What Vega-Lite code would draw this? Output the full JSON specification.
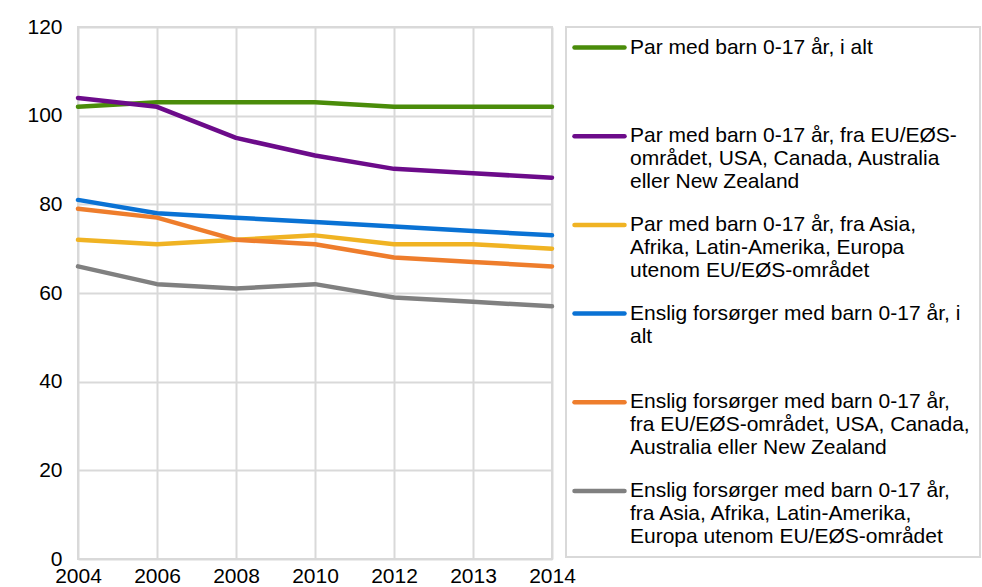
{
  "$schema": "https://vega.github.io/schema/vega-lite/v6.json",
  "width": 474,
  "height": 532,
  "autosize": {"type": "none"},
  "padding": {"left": 78, "top": 27, "right": 430, "bottom": 28},
  "background": "white",
  "data": {
    "values": [
      {"år": "2004", "serie": "Par med barn 0-17 år, i alt", "verdi": 102},
      {"år": "2006", "serie": "Par med barn 0-17 år, i alt", "verdi": 103},
      {"år": "2008", "serie": "Par med barn 0-17 år, i alt", "verdi": 103},
      {"år": "2010", "serie": "Par med barn 0-17 år, i alt", "verdi": 103},
      {"år": "2012", "serie": "Par med barn 0-17 år, i alt", "verdi": 102},
      {"år": "2013", "serie": "Par med barn 0-17 år, i alt", "verdi": 102},
      {"år": "2014", "serie": "Par med barn 0-17 år, i alt", "verdi": 102},
      {"år": "2004", "serie": "Par med barn 0-17 år, fra EU/EØS-området, USA, Canada, Australia eller New Zealand", "verdi": 104},
      {"år": "2006", "serie": "Par med barn 0-17 år, fra EU/EØS-området, USA, Canada, Australia eller New Zealand", "verdi": 102},
      {"år": "2008", "serie": "Par med barn 0-17 år, fra EU/EØS-området, USA, Canada, Australia eller New Zealand", "verdi": 95},
      {"år": "2010", "serie": "Par med barn 0-17 år, fra EU/EØS-området, USA, Canada, Australia eller New Zealand", "verdi": 91},
      {"år": "2012", "serie": "Par med barn 0-17 år, fra EU/EØS-området, USA, Canada, Australia eller New Zealand", "verdi": 88},
      {"år": "2013", "serie": "Par med barn 0-17 år, fra EU/EØS-området, USA, Canada, Australia eller New Zealand", "verdi": 87},
      {"år": "2014", "serie": "Par med barn 0-17 år, fra EU/EØS-området, USA, Canada, Australia eller New Zealand", "verdi": 86},
      {"år": "2004", "serie": "Par med barn 0-17 år, fra Asia, Afrika, Latin-Amerika, Europa utenom EU/EØS-området", "verdi": 72},
      {"år": "2006", "serie": "Par med barn 0-17 år, fra Asia, Afrika, Latin-Amerika, Europa utenom EU/EØS-området", "verdi": 71},
      {"år": "2008", "serie": "Par med barn 0-17 år, fra Asia, Afrika, Latin-Amerika, Europa utenom EU/EØS-området", "verdi": 72},
      {"år": "2010", "serie": "Par med barn 0-17 år, fra Asia, Afrika, Latin-Amerika, Europa utenom EU/EØS-området", "verdi": 73},
      {"år": "2012", "serie": "Par med barn 0-17 år, fra Asia, Afrika, Latin-Amerika, Europa utenom EU/EØS-området", "verdi": 71},
      {"år": "2013", "serie": "Par med barn 0-17 år, fra Asia, Afrika, Latin-Amerika, Europa utenom EU/EØS-området", "verdi": 71},
      {"år": "2014", "serie": "Par med barn 0-17 år, fra Asia, Afrika, Latin-Amerika, Europa utenom EU/EØS-området", "verdi": 70},
      {"år": "2004", "serie": "Enslig forsørger med barn 0-17 år, i alt", "verdi": 81},
      {"år": "2006", "serie": "Enslig forsørger med barn 0-17 år, i alt", "verdi": 78},
      {"år": "2008", "serie": "Enslig forsørger med barn 0-17 år, i alt", "verdi": 77},
      {"år": "2010", "serie": "Enslig forsørger med barn 0-17 år, i alt", "verdi": 76},
      {"år": "2012", "serie": "Enslig forsørger med barn 0-17 år, i alt", "verdi": 75},
      {"år": "2013", "serie": "Enslig forsørger med barn 0-17 år, i alt", "verdi": 74},
      {"år": "2014", "serie": "Enslig forsørger med barn 0-17 år, i alt", "verdi": 73},
      {"år": "2004", "serie": "Enslig forsørger med barn 0-17 år, fra EU/EØS-området, USA, Canada, Australia eller New Zealand", "verdi": 79},
      {"år": "2006", "serie": "Enslig forsørger med barn 0-17 år, fra EU/EØS-området, USA, Canada, Australia eller New Zealand", "verdi": 77},
      {"år": "2008", "serie": "Enslig forsørger med barn 0-17 år, fra EU/EØS-området, USA, Canada, Australia eller New Zealand", "verdi": 72},
      {"år": "2010", "serie": "Enslig forsørger med barn 0-17 år, fra EU/EØS-området, USA, Canada, Australia eller New Zealand", "verdi": 71},
      {"år": "2012", "serie": "Enslig forsørger med barn 0-17 år, fra EU/EØS-området, USA, Canada, Australia eller New Zealand", "verdi": 68},
      {"år": "2013", "serie": "Enslig forsørger med barn 0-17 år, fra EU/EØS-området, USA, Canada, Australia eller New Zealand", "verdi": 67},
      {"år": "2014", "serie": "Enslig forsørger med barn 0-17 år, fra EU/EØS-området, USA, Canada, Australia eller New Zealand", "verdi": 66},
      {"år": "2004", "serie": "Enslig forsørger med barn 0-17 år, fra Asia, Afrika, Latin-Amerika, Europa utenom EU/EØS-området", "verdi": 66},
      {"år": "2006", "serie": "Enslig forsørger med barn 0-17 år, fra Asia, Afrika, Latin-Amerika, Europa utenom EU/EØS-området", "verdi": 62},
      {"år": "2008", "serie": "Enslig forsørger med barn 0-17 år, fra Asia, Afrika, Latin-Amerika, Europa utenom EU/EØS-området", "verdi": 61},
      {"år": "2010", "serie": "Enslig forsørger med barn 0-17 år, fra Asia, Afrika, Latin-Amerika, Europa utenom EU/EØS-området", "verdi": 62},
      {"år": "2012", "serie": "Enslig forsørger med barn 0-17 år, fra Asia, Afrika, Latin-Amerika, Europa utenom EU/EØS-området", "verdi": 59},
      {"år": "2013", "serie": "Enslig forsørger med barn 0-17 år, fra Asia, Afrika, Latin-Amerika, Europa utenom EU/EØS-området", "verdi": 58},
      {"år": "2014", "serie": "Enslig forsørger med barn 0-17 år, fra Asia, Afrika, Latin-Amerika, Europa utenom EU/EØS-området", "verdi": 57}
    ]
  },
  "mark": {"type": "line", "strokeWidth": 4.5, "strokeJoin": "round", "strokeCap": "round"},
  "encoding": {
    "x": {
      "field": "år",
      "type": "ordinal",
      "scale": {"type": "point", "padding": 0},
      "axis": {
        "title": null,
        "labelAngle": 0,
        "grid": true,
        "gridColor": "#d9d9d9",
        "gridWidth": 2,
        "domain": false,
        "ticks": false,
        "tickSize": 0,
        "labelPadding": 6,
        "labelFontSize": 21,
        "labelColor": "#000000"
      }
    },
    "y": {
      "field": "verdi",
      "type": "quantitative",
      "scale": {"domain": [0, 120]},
      "axis": {
        "title": null,
        "values": [0, 20, 40, 60, 80, 100, 120],
        "grid": true,
        "gridColor": "#d9d9d9",
        "gridWidth": 2,
        "domain": false,
        "ticks": false,
        "tickSize": 0,
        "labelPadding": 16,
        "labelFontSize": 21,
        "labelColor": "#000000"
      }
    },
    "color": {
      "field": "serie",
      "type": "nominal",
      "scale": {
        "domain": [
          "Par med barn 0-17 år, i alt",
          "Par med barn 0-17 år, fra EU/EØS-området, USA, Canada, Australia eller New Zealand",
          "Par med barn 0-17 år, fra Asia, Afrika, Latin-Amerika, Europa utenom EU/EØS-området",
          "Enslig forsørger med barn 0-17 år, i alt",
          "Enslig forsørger med barn 0-17 år, fra EU/EØS-området, USA, Canada, Australia eller New Zealand",
          "Enslig forsørger med barn 0-17 år, fra Asia, Afrika, Latin-Amerika, Europa utenom EU/EØS-området"
        ],
        "range": ["#4a8c0a", "#6c0b8a", "#f0b323", "#0a72d4", "#ee7d2c", "#808080"]
      },
      "legend": {
        "title": null,
        "orient": "right",
        "offset": 11,
        "padding": 10,
        "strokeColor": "#d9d9d9",
        "labelFontSize": 21,
        "labelColor": "#000000",
        "labelLimit": 500,
        "labelOffset": 20,
        "symbolType": "M-4,0H4",
        "symbolSize": 156.25,
        "symbolOffset": 13,
        "symbolStrokeWidth": 4.5,
        "rowPadding": 20.7,
        "labelExpr": "datum.label == 'Par med barn 0-17 år, i alt' ? ['Par med barn 0-17 år, i alt', '', ''] : datum.label == 'Par med barn 0-17 år, fra EU/EØS-området, USA, Canada, Australia eller New Zealand' ? ['Par med barn 0-17 år, fra EU/EØS-', 'området, USA, Canada, Australia', 'eller New Zealand'] : datum.label == 'Par med barn 0-17 år, fra Asia, Afrika, Latin-Amerika, Europa utenom EU/EØS-området' ? ['Par med barn 0-17 år, fra Asia,', 'Afrika, Latin-Amerika, Europa', 'utenom EU/EØS-området'] : datum.label == 'Enslig forsørger med barn 0-17 år, i alt' ? ['Enslig forsørger med barn 0-17 år, i', 'alt', ''] : datum.label == 'Enslig forsørger med barn 0-17 år, fra EU/EØS-området, USA, Canada, Australia eller New Zealand' ? ['Enslig forsørger med barn 0-17 år,', 'fra EU/EØS-området, USA, Canada,', 'Australia eller New Zealand'] : ['Enslig forsørger med barn 0-17 år,', 'fra Asia, Afrika, Latin-Amerika,', 'Europa utenom EU/EØS-området']",
        "encode": {
          "legend": {"update": {"strokeWidth": {"value": 2}}},
          "symbols": {"update": {"strokeCap": {"value": "round"}}}
        }
      }
    }
  },
  "config": {
    "font": "Liberation Sans",
    "view": {"stroke": "#d9d9d9", "strokeWidth": 2}
  }
}
